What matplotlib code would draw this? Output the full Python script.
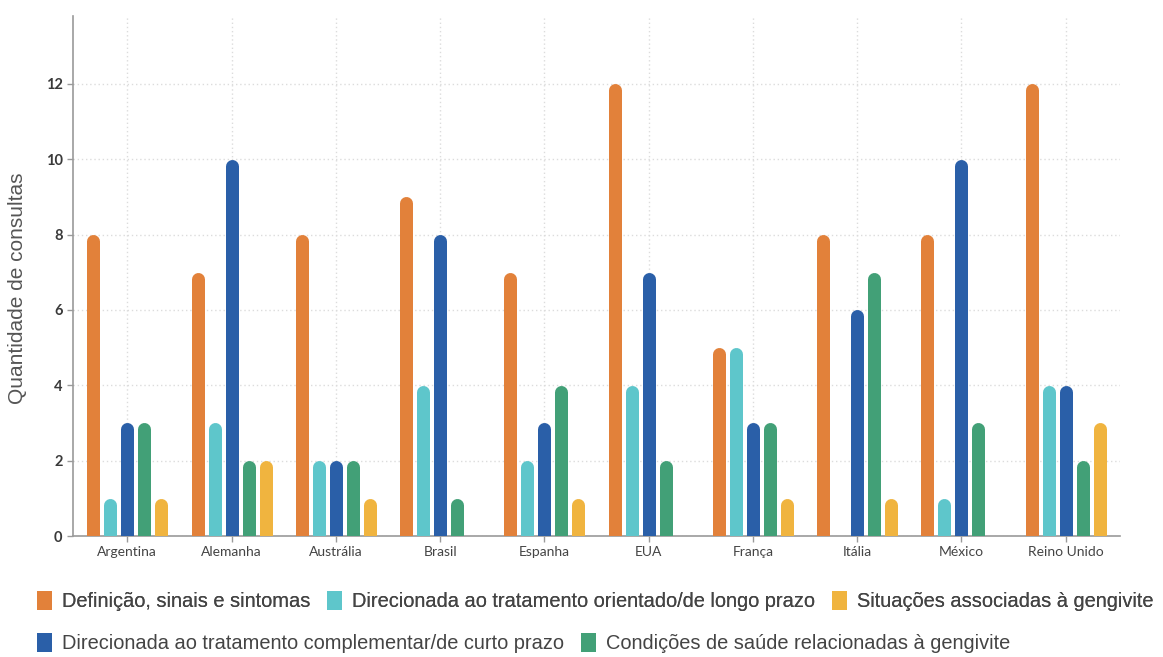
import matplotlib.pyplot as plt
from matplotlib.patches import Patch
import numpy as np

paises = ["Argentina", "Alemanha", "Austrália", "Brasil", "Espanha",
          "EUA", "França", "Itália", "México", "Reino Unido"]

definicao = [8, 7, 8, 9, 7, 12, 5, 8, 8, 12]
longo_prazo = [1, 3, 2, 4, 2, 4, 5, 0, 1, 4]
curto_prazo = [3, 10, 2, 8, 3, 7, 3, 6, 10, 4]
condicoes = [3, 2, 2, 1, 4, 2, 3, 7, 3, 2]
situacoes = [1, 2, 1, 0, 1, 0, 1, 1, 0, 3]

series = [
    ("Definição, sinais e sintomas", definicao, "#E2813A"),
    ("Direcionada ao tratamento orientado/de longo prazo", longo_prazo, "#5EC6CB"),
    ("Direcionada ao tratamento complementar/de curto prazo", curto_prazo, "#2A5FA8"),
    ("Condições de saúde relacionadas à gengivite", condicoes, "#42A077"),
    ("Situações associadas à gengivite", situacoes, "#F0B43F"),
]

W, H, DPI = 1163, 657, 100
fig = plt.figure(figsize=(W / DPI, H / DPI), dpi=DPI)
ax = fig.add_axes([73 / W, 121 / H, 1047 / W, 520 / H])

ax.set_xlim(-0.52, 9.52)
ax.set_ylim(0, 13.8)

# bar width in pixels -> line width in points, round cap radius in data units
bar_px = 13
lw = bar_px * 72 / DPI
px_per_unit = ax.get_window_extent().height / 13.8
r = (bar_px / 2) / px_per_unit

step = 17 / (1047 / 10.04)
x = np.arange(len(paises))
for i, (nome, vals, cor) in enumerate(series):
    xs = x + (i - 2) * step
    vals = np.array(vals, dtype=float)
    m = vals > 0
    ax.vlines(xs[m], 0, vals[m] - r, colors=cor, linewidth=lw,
              capstyle="round", zorder=3)

ax.set_yticks(range(0, 13, 2))
ax.set_xticks(x)
ax.set_xticklabels(paises)
ax.grid(True, linestyle=(0, (1, 2)), color="#dcdcdc", linewidth=1)
ax.set_axisbelow(True)
for s in ["top", "right"]:
    ax.spines[s].set_visible(False)
for s in ["left", "bottom"]:
    ax.spines[s].set_color("#9a9a9a")
    ax.spines[s].set_linewidth(1.2)
ax.tick_params(axis="both", colors="#9a9a9a", length=4, width=1)
ax.tick_params(axis="y", labelcolor="#3a3a3a", labelsize=10.5)
ax.tick_params(axis="x", labelcolor="#444444", labelsize=10)
for t in ax.get_xticklabels() + ax.get_yticklabels():
    t.set_family("Lato")
for t in ax.get_yticklabels():
    t.set_fontweight("bold")

fig.text(18 / W, 1 - 288 / H, "Quantidade de consultas", rotation=90,
         ha="center", va="center", fontsize=15, color="#555555",
         family="Liberation Sans")

h = {nome: Patch(facecolor=cor) for nome, _, cor in series}
linha1 = [series[0][0], series[1][0], series[4][0]]
linha2 = [series[2][0], series[3][0]]
leg_kw = dict(frameon=False, loc="center left", borderpad=0, borderaxespad=0,
              handlelength=0.75, handleheight=1.1, handletextpad=0.5,
              columnspacing=0.85, prop={"family": "Liberation Sans", "size": 14.4},
              labelcolor="#444444")
leg1 = fig.legend([h[n] for n in linha1], linha1, ncol=3,
                  bbox_to_anchor=(37 / W, 1 - 601 / H), **leg_kw)
fig.add_artist(leg1)
fig.legend([h[n] for n in linha2], linha2, ncol=2,
           bbox_to_anchor=(37 / W, 1 - 643 / H), **leg_kw)

fig.savefig("out.png", dpi=DPI)
